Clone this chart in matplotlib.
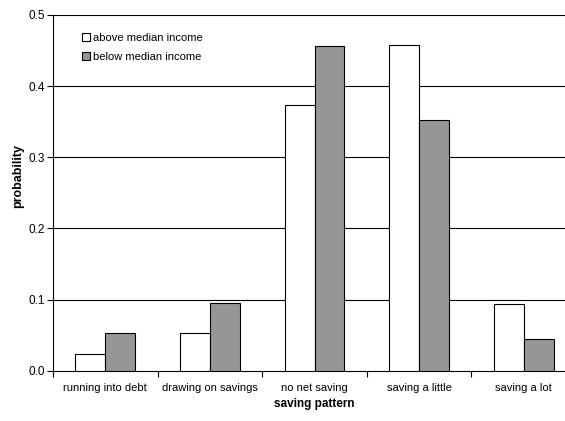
import matplotlib
matplotlib.use("Agg")
import matplotlib.pyplot as plt
import numpy as np

# ── Data ────────────────────────────────────────────────────────────
patterns = ["running into debt", "drawing on savings", "no net saving",
            "saving a little", "saving a lot"]
above_median = [0.023, 0.053, 0.374, 0.458, 0.094]
below_median = [0.053, 0.095, 0.457, 0.352, 0.044]
y_ticks = [0.0, 0.1, 0.2, 0.3, 0.4, 0.5]

plt.rcParams["font.family"] = ["Liberation Sans", "DejaVu Sans"]

fig = plt.figure(figsize=(5.65, 4.21), dpi=100)
# axis runs a little past the right edge of the canvas
ax = fig.add_axes([0.0938, 0.1195, 0.9257, 0.8449])

x = np.arange(len(patterns))
w = 0.286
ax.bar(x - w / 2, above_median, width=w, color="white",
       edgecolor="black", linewidth=0.8, label="above median income", zorder=3)
ax.bar(x + w / 2, below_median, width=w, color="#969696",
       edgecolor="black", linewidth=0.8, label="below median income", zorder=3)

ax.set_xlim(-0.5, len(patterns) - 0.5)
ax.set_ylim(0, 0.5)
ax.set_yticks(y_ticks)
ax.set_yticklabels([f"{v:.1f}" for v in y_ticks], fontsize=8.5)

# category labels between boundary ticks
ax.set_xticks(np.arange(len(patterns) + 1) - 0.5)
ax.set_xticklabels([])
ax.set_xticks(x, minor=True)
ax.set_xticklabels(patterns, minor=True, fontsize=8)
ax.tick_params(axis="x", which="minor", length=0, pad=9)
ax.tick_params(axis="x", which="major", length=4, width=0.8)
ax.tick_params(axis="y", length=4, width=0.8, pad=2)

for v in y_ticks[1:]:
    ax.axhline(v, color="black", linewidth=0.8, zorder=1)

for side in ("top", "right"):
    ax.spines[side].set_visible(False)
for side in ("left", "bottom"):
    ax.spines[side].set_linewidth(0.8)

ax.set_xlabel("saving pattern", fontsize=8.5, fontweight="bold", labelpad=3.5)
ax.set_ylabel("probability", fontsize=9, fontweight="bold")
ax.yaxis.set_label_coords(-0.055, 0.547)

leg = ax.legend(loc="upper left", bbox_to_anchor=(0.037, 0.977), frameon=False,
                fontsize=8, handlelength=0.7, handleheight=0.7,
                handletextpad=0.3, labelspacing=0.75)

fig.savefig("out.png", dpi=100)
